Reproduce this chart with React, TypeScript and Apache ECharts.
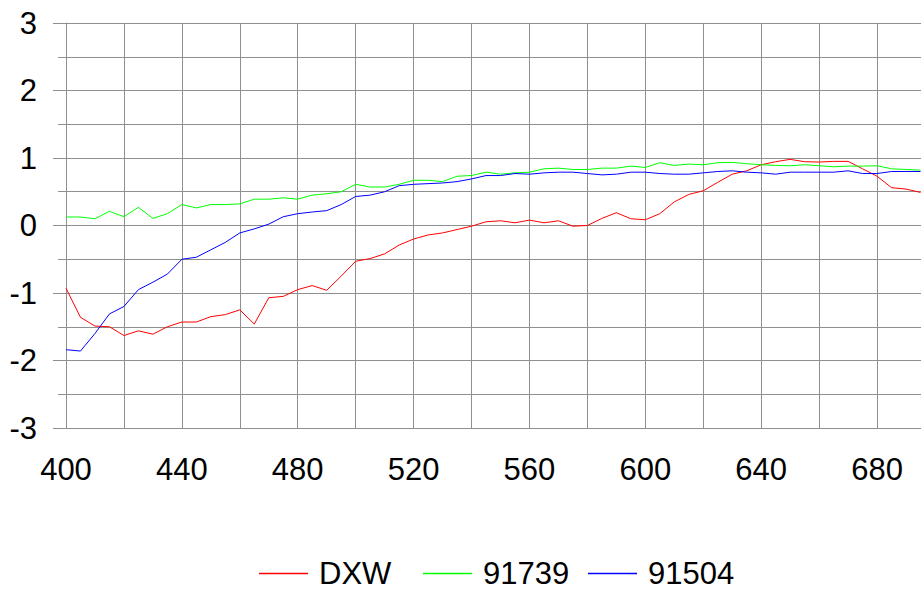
import React, { useEffect, useRef } from "react";
import * as echarts from "echarts";

const wavelengths: number[] = [
  400, 405, 410, 415, 420, 425, 430, 435, 440, 445,
  450, 455, 460, 465, 470, 475, 480, 485, 490, 495,
  500, 505, 510, 515, 520, 525, 530, 535, 540, 545,
  550, 555, 560, 565, 570, 575, 580, 585, 590, 595,
  600, 605, 610, 615, 620, 625, 630, 635, 640, 645,
  650, 655, 660, 665, 670, 675, 680, 685, 690, 695,
];

const dxw: number[] = [
  -0.93, -1.36, -1.49, -1.5, -1.63, -1.56, -1.61, -1.5, -1.43, -1.43,
  -1.35, -1.32, -1.25, -1.46, -1.07, -1.05, -0.95, -0.89, -0.96, -0.75,
  -0.53, -0.49, -0.42, -0.29, -0.2, -0.14, -0.11, -0.06, -0.01, 0.055,
  0.07, 0.04, 0.08, 0.04, 0.07, -0.01, 0.0, 0.105, 0.19, 0.1,
  0.085, 0.175, 0.35, 0.46, 0.515, 0.64, 0.76, 0.81, 0.9, 0.945,
  0.98, 0.945, 0.94, 0.95, 0.95, 0.84, 0.73, 0.56, 0.54, 0.49,
];

const s91739: number[] = [
  0.126, 0.126, 0.1, 0.21, 0.13, 0.27, 0.105, 0.175, 0.31, 0.26,
  0.31, 0.31, 0.32, 0.39, 0.39, 0.41, 0.39, 0.45, 0.47, 0.5,
  0.61, 0.57, 0.57, 0.61, 0.67, 0.67, 0.65, 0.73, 0.74, 0.79,
  0.76, 0.78, 0.79, 0.84, 0.85, 0.83, 0.83, 0.85, 0.85, 0.88,
  0.86, 0.93, 0.89, 0.91, 0.9, 0.93, 0.935, 0.915, 0.9, 0.89,
  0.885, 0.9, 0.885, 0.87, 0.88, 0.88, 0.885, 0.84, 0.83, 0.82,
];

const s91504: number[] = [
  -1.84, -1.86, -1.6, -1.31, -1.2, -0.95, -0.84, -0.72, -0.5, -0.47,
  -0.36, -0.25, -0.11, -0.05, 0.02, 0.13, 0.175, 0.2, 0.22, 0.31,
  0.43, 0.45, 0.5, 0.59, 0.61, 0.62, 0.63, 0.65, 0.69, 0.74,
  0.74, 0.77, 0.76, 0.78, 0.79, 0.79, 0.77, 0.75, 0.76, 0.79,
  0.79, 0.77, 0.76, 0.76, 0.78, 0.8, 0.81, 0.79, 0.78, 0.76,
  0.79, 0.79, 0.79, 0.79, 0.81, 0.77, 0.77, 0.8, 0.8, 0.8,
];

const seriesNames: string[] = ["DXW", "91739", "91504"];
const seriesColors: string[] = ["#ff0000", "#00ff00", "#0000ff"];
const seriesData: number[][] = [dxw, s91739, s91504];
const legendLefts: number[] = [259, 423, 588];

const FONT = "'Liberation Sans', Arial, sans-serif";
const GRID_COLOR = "#8f8f8f";

export default function App() {
  const ref = useRef<HTMLDivElement>(null);

  useEffect(() => {
    if (!ref.current) return;
    const chart = echarts.init(ref.current, null, { renderer: "svg" });
    const option: any = {
      animation: false,
      backgroundColor: "#ffffff",
      grid: { left: 66, top: 23, right: 15, height: 405 },
      xAxis: {
        type: "value",
        min: 400,
        max: 700,
        interval: 20,
        axisLine: { show: true, lineStyle: { color: GRID_COLOR, width: 1 } },
        axisTick: { show: true, length: 7, lineStyle: { color: GRID_COLOR } },
        splitLine: { show: true, lineStyle: { color: GRID_COLOR, width: 1 } },
        axisLabel: {
          margin: 26,
          fontSize: 31,
          fontFamily: FONT,
          color: "#000",
          formatter: (v: number) => (v % 40 === 0 && v < 690 ? String(v) : ""),
        },
      },
      yAxis: {
        type: "value",
        min: -3,
        max: 3,
        interval: 1,
        axisLine: { show: true, lineStyle: { color: GRID_COLOR, width: 1 } },
        axisTick: { show: true, length: 13, lineStyle: { color: GRID_COLOR } },
        minorTick: { show: true, splitNumber: 2, length: 8, lineStyle: { color: GRID_COLOR } },
        splitLine: { show: true, lineStyle: { color: GRID_COLOR, width: 1 } },
        minorSplitLine: { show: true, lineStyle: { color: GRID_COLOR, width: 1 } },
        axisLabel: {
          margin: 29,
          fontSize: 31,
          fontFamily: FONT,
          color: "#000",
        },
      },
      legend: seriesNames.map((name, i) => ({
        data: [name],
        left: legendLefts[i],
        top: 558,
        padding: 0,
        icon: "rect",
        itemWidth: 49,
        itemHeight: 1.5,
        selectedMode: false,
        textStyle: {
          fontSize: 31,
          fontFamily: FONT,
          color: "#000",
          padding: [0, 0, 0, 6],
        },
      })),
      series: seriesNames.map((name, i) => ({
        name,
        type: "line",
        data: wavelengths.map((w, j) => [w, seriesData[i][j]]),
        symbol: "none",
        showSymbol: false,
        color: seriesColors[i],
        lineStyle: { color: seriesColors[i], width: 1 },
        itemStyle: { color: seriesColors[i] },
      })),
    };
    chart.setOption(option);
    return () => chart.dispose();
  }, []);

  return (
    <div
      style={{
        position: "fixed",
        left: 0,
        top: 0,
        width: 921,
        height: 592,
        overflow: "hidden",
        background: "#fff",
      }}
    >
      <div ref={ref} style={{ width: 950, height: 592 }} />
    </div>
  );
}
